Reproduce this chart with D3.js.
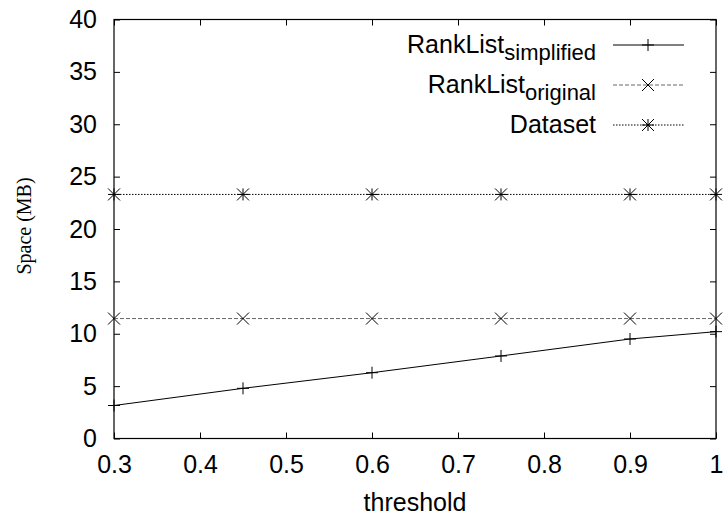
<!DOCTYPE html>
<html>
<head>
<meta charset="utf-8">
<script src="https://cdn.jsdelivr.net/npm/d3@7"></script>
<style>
  body { margin: 0; background: #fff; }
  svg { display: block; }
  text { font-family: "Liberation Sans", Arial, sans-serif; fill: #000; }
</style>
</head>
<body>
<svg id="chart" width="728" height="521"></svg>
<script>
// data
const thresholds = [0.3, 0.45, 0.6, 0.75, 0.9, 1.0];
const simplified = [3.15, 4.79, 6.28, 7.88, 9.5, 10.2];
const original = [11.45, 11.45, 11.45, 11.45, 11.45, 11.45];
const dataset = [23.3, 23.3, 23.3, 23.3, 23.3, 23.3];
const xTicks = [0.3, 0.4, 0.5, 0.6, 0.7, 0.8, 0.9, 1];
const yTicks = [0, 5, 10, 15, 20, 25, 30, 35, 40];

const series = [
  { name: "RankList", sub: "simplified", values: simplified, dash: null, color: "#000", marker: "plus" },
  { name: "RankList", sub: "original", values: original, dash: "4,2", color: "#666", marker: "cross" },
  { name: "Dataset", sub: null, values: dataset, dash: "1.5,1.5", color: "#000", marker: "star" }
];

const plotLeft = 114, plotRight = 716, plotTop = 19.5, plotBottom = 438.5;
const svg = d3.select('#chart');

const x = d3.scaleLinear().domain([0.3, 1]).range([plotLeft, plotRight]);
const y = d3.scaleLinear().domain([0, 40]).range([plotBottom, plotTop]);

// markers
function drawMarker(g, type, cx, cy) {
  const s = 6;
  const p = d3.path();
  if (type === "plus" || type === "star") {
    p.moveTo(cx - s, cy); p.lineTo(cx + s, cy);
    p.moveTo(cx, cy - s); p.lineTo(cx, cy + s);
  }
  if (type === "cross" || type === "star") {
    p.moveTo(cx - s, cy - s); p.lineTo(cx + s, cy + s);
    p.moveTo(cx - s, cy + s); p.lineTo(cx + s, cy - s);
  }
  g.append('path').attr('d', p.toString())
    .attr('stroke', '#000').attr('stroke-width', 1).attr('fill', 'none');
}

// axes (ticks inward, mirrored)
const tl = 6;
svg.append('g').attr('transform', `translate(0,${plotBottom})`)
  .call(d3.axisBottom(x).tickValues(xTicks).tickSize(-tl)
    .tickFormat(d => d === 1 ? "1" : d3.format(".1f")(d)))
  .call(g => g.select('.domain').remove())
  .call(g => g.selectAll('text').attr('font-size', 25).attr('dy', '0.71em').attr('y', 17));
svg.append('g').attr('transform', `translate(0,${plotTop})`)
  .call(d3.axisTop(x).tickValues(xTicks).tickSize(-tl).tickFormat(''))
  .call(g => g.select('.domain').remove());
svg.append('g').attr('transform', `translate(${plotLeft},0)`)
  .call(d3.axisLeft(y).tickValues(yTicks).tickSize(-tl).tickPadding(17))
  .call(g => g.select('.domain').remove())
  .call(g => g.selectAll('text').attr('font-size', 25));
svg.append('g').attr('transform', `translate(${plotRight},0)`)
  .call(d3.axisRight(y).tickValues(yTicks).tickSize(-tl).tickFormat(''))
  .call(g => g.select('.domain').remove());
svg.selectAll('.tick line').attr('stroke', '#000');
svg.selectAll('.tick text').attr('fill', '#000');

// frame
svg.append('rect')
  .attr('x', plotLeft).attr('y', plotTop)
  .attr('width', plotRight - plotLeft).attr('height', plotBottom - plotTop)
  .attr('fill', 'none').attr('stroke', '#000').attr('stroke-width', 1.2);

// axis titles
svg.append('text')
  .attr('x', x(0.65)).attr('y', 511)
  .attr('text-anchor', 'middle').attr('font-size', 25)
  .text('threshold');
svg.append('text')
  .attr('transform', 'translate(31,226) rotate(-90)')
  .attr('text-anchor', 'middle').attr('font-size', 20)
  .style('font-family', '"Liberation Serif", "Times New Roman", serif')
  .text('Space (MB)');

// series
const line = d3.line().x((d, i) => x(thresholds[i])).y(d => y(d));
const plot = svg.append('g');
series.forEach(s => {
  plot.append('path')
    .attr('d', line(s.values))
    .attr('fill', 'none')
    .attr('stroke', s.color)
    .attr('stroke-width', 1)
    .attr('stroke-dasharray', s.dash);
  const mg = plot.append('g');
  s.values.forEach((v, i) => drawMarker(mg, s.marker, x(thresholds[i]), y(v)));
});

// legend
const legend = svg.append('g');
series.forEach((s, i) => {
  const ly = 45 + i * 40;
  const t = legend.append('text')
    .attr('x', 596).attr('y', ly + 8)
    .attr('text-anchor', 'end').attr('font-size', 25);
  t.append('tspan').text(s.name);
  if (s.sub) {
    t.append('tspan').attr('font-size', 22).attr('dy', 7).text(s.sub);
  }
  legend.append('line')
    .attr('x1', 613).attr('x2', 684).attr('y1', ly).attr('y2', ly)
    .attr('stroke', s.color).attr('stroke-width', 1)
    .attr('stroke-dasharray', s.dash);
  drawMarker(legend, s.marker, 648, ly);
});
</script>
</body>
</html>
